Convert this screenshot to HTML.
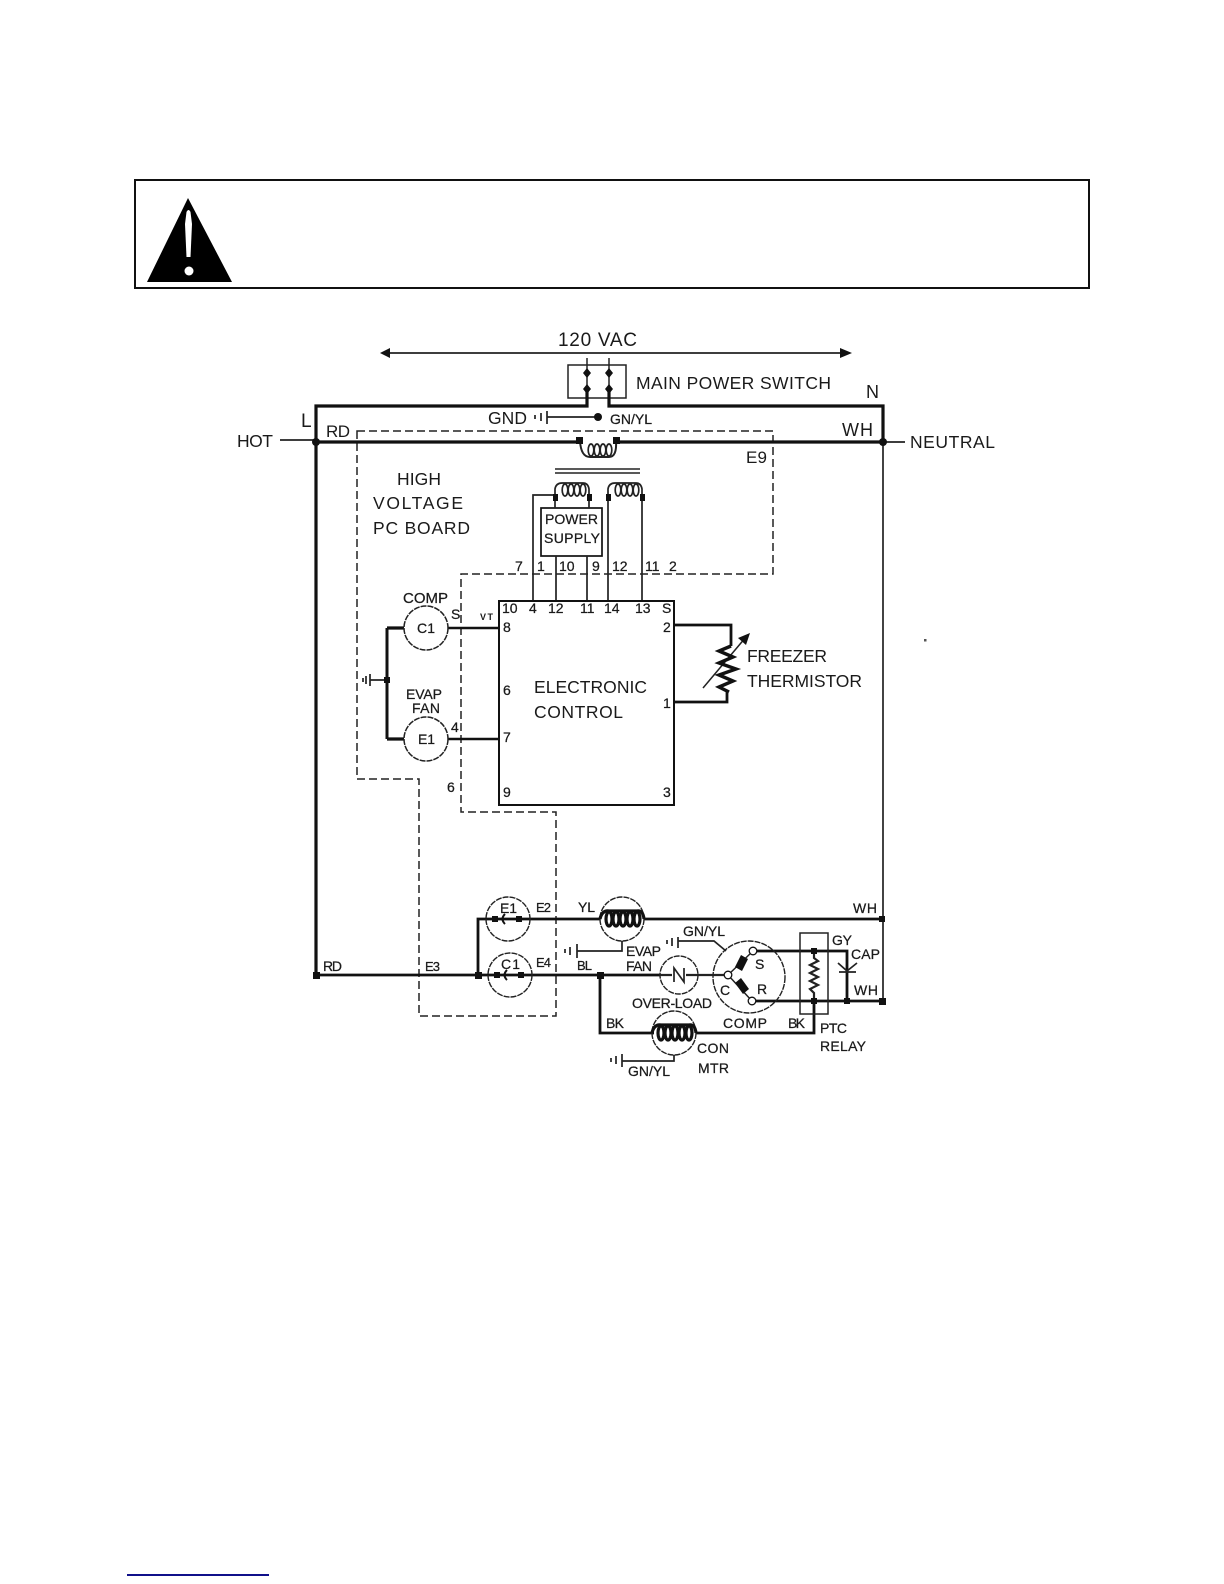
<!DOCTYPE html>
<html><head><meta charset="utf-8"><style>
html,body{margin:0;padding:0;background:#fff}
svg{display:block}
text{font-family:"Liberation Sans",sans-serif;fill:#1a1a1a}
.sm text{stroke:#1a1a1a;stroke-width:.25px}
</style></head><body>
<svg width="1224" height="1584" viewBox="0 0 1224 1584" xmlns="http://www.w3.org/2000/svg">
<rect width="1224" height="1584" fill="#fff"/>
<!-- warning box -->
<rect x="135" y="180" width="954" height="108" fill="none" stroke="#111" stroke-width="2"/>
<polygon points="188,198 147,282 232,282" fill="#000"/>
<path d="M186.500 212 Q188.500 208 190.500 212 L192 224 L190.500 257 L186.500 257 L185 224Z" fill="#fff"/>
<circle cx="189" cy="271" r="4.500" fill="#fff"/>
<!-- 120 VAC arrow -->
<g stroke="#222" fill="none">
<line x1="385" y1="353" x2="845" y2="353" stroke-width="1.800"/>
<rect x="568" y="365" width="58" height="33" stroke-width="1.500"/>
<line x1="587" y1="358" x2="587" y2="390" stroke-width="1.500"/>
<line x1="609" y1="358" x2="609" y2="390" stroke-width="1.500"/>
</g>
<polygon points="380,353 390,348 390,358" fill="#111"/>
<polygon points="852,353 840,348 840,358" fill="#111"/>
<g fill="#111"><path d="M587 368l4 5-4 5-4-5zM587 384l4 5-4 5-4-5zM609 368l4 5-4 5-4-5zM609 384l4 5-4 5-4-5z"/></g>
<!-- dashed boundaries -->
<g fill="none" stroke="#222" stroke-width="1.500" stroke-dasharray="8 4">
<path d="M357 431H773V574H461V812H556V1016H419V779H357Z"/>
</g>
<!-- thick outer -->
<g fill="none" stroke="#111" stroke-width="3.200">
<path d="M587 389V406H316V975"/>
<path d="M609 389V406H883V442"/>
<path d="M316 442H580"/>
<path d="M615 442H883"/>
<path d="M387 628V739" stroke-width="3"/>
<path d="M387 628H404M387 739H404"/>
<path d="M448 628H499M448 739H499" stroke-width="2.600"/>
<path d="M316 975H660" stroke-width="2.800"/>
<path d="M478 975V919H600" stroke-width="2.800"/>
<path d="M644 919H882" stroke-width="2.800"/>
<path d="M600 975V1033H654" stroke-width="2.800"/>
<path d="M696 1033H814V1001" stroke-width="2.800"/>
<path d="M757 951H847V1001" stroke-width="2.800"/>
<path d="M756 1001H882" stroke-width="2.800"/>
<path d="M674 625H731V646" stroke-width="2.800"/>
<path d="M674 702H727V692" stroke-width="2.800"/>
</g>
<!-- thin wires -->
<g fill="none" stroke="#222" stroke-width="1.700">
<line x1="883" y1="442" x2="883" y2="1001"/>
<line x1="280" y1="440" x2="316" y2="440"/>
<line x1="883" y1="442" x2="905" y2="442"/>
<!-- ground top -->
<line x1="547" y1="417" x2="598" y2="417"/>
<line x1="547" y1="411" x2="547" y2="424"/>
<line x1="535" y1="415" x2="535" y2="419"/><line x1="541" y1="413" x2="541" y2="421"/>
<!-- transformer bars -->
<line x1="555" y1="469" x2="640" y2="469" stroke-width="1.500"/>
<line x1="555" y1="473" x2="640" y2="473" stroke-width="1.500"/>
<!-- primary coil -->
<path d="M580 441Q581 457 590 457H609Q617 457 616 441" stroke-width="2"/>
<ellipse cx="591" cy="450" rx="2.800" ry="6"/><ellipse cx="597" cy="450" rx="2.800" ry="6"/><ellipse cx="603" cy="450" rx="2.800" ry="6"/><ellipse cx="609" cy="450" rx="2.800" ry="6"/>
<!-- secondary coils -->
<path d="M555 498V489Q556 483 562 483H583Q588 483 589 489V498"/>
<ellipse cx="565" cy="490" rx="2.800" ry="6"/><ellipse cx="571" cy="490" rx="2.800" ry="6"/><ellipse cx="577" cy="490" rx="2.800" ry="6"/><ellipse cx="583" cy="490" rx="2.800" ry="6"/>
<path d="M608 498V489Q609 483 615 483H636Q641 483 642 489V498"/>
<ellipse cx="618" cy="490" rx="2.800" ry="6"/><ellipse cx="624" cy="490" rx="2.800" ry="6"/><ellipse cx="630" cy="490" rx="2.800" ry="6"/><ellipse cx="636" cy="490" rx="2.800" ry="6"/>
<!-- PS -->
<rect x="541" y="508" width="61" height="48" stroke="#111"/>
<path d="M555 495H533V601M555 498V508M589 498V508M556 556V601M587 556V601M608 498V601M642 498V601"/>
<!-- control box -->
<rect x="499" y="601" width="175" height="204" stroke="#111" stroke-width="2"/>
<!-- motor circles -->
<circle cx="426" cy="628" r="22" stroke-width="1.500" stroke-dasharray="6 1"/>
<circle cx="426" cy="739" r="22" stroke-width="1.500" stroke-dasharray="6 1"/>
<line x1="370" y1="680" x2="387" y2="680"/><line x1="370" y1="674" x2="370" y2="686"/>
<line x1="363" y1="678" x2="363" y2="682"/><line x1="366" y1="676" x2="366" y2="684"/>
<!-- thermistor arrow -->
<line x1="703" y1="688" x2="746" y2="637" stroke-width="1.500"/>
<!-- lower circles -->
<circle cx="508" cy="919" r="22" stroke-width="1.400" stroke-dasharray="6 1"/>
<circle cx="510" cy="975" r="22" stroke-width="1.400" stroke-dasharray="6 1"/>
<circle cx="622" cy="919" r="22" stroke-width="1.400" stroke-dasharray="6 1"/>
<circle cx="679" cy="975" r="19" stroke-width="1.400" stroke-dasharray="6 1"/>
<circle cx="674" cy="1033" r="22" stroke-width="1.400" stroke-dasharray="6 1"/>
<circle cx="749" cy="977" r="36" stroke-width="1.400" stroke-dasharray="6 1"/>
<path d="M660 975H672M686 975H724" stroke-width="2.200"/>
<path d="M674 982L674 968L684 982V968" stroke-width="1.700"/>
<!-- comp terminals -->
<path d="M728 975L753 951M728 975L752 1001" stroke-width="1.500"/>
<!-- grounds -->
<path d="M622 941V951H577M577 944V958M565 949V953M570 947V955"/>
<path d="M678 937V948M678 941H714L726 951M667 940V944M672 938V946"/>
<path d="M674 1055V1061H622M622 1054V1067M611 1058V1062M616 1056V1064"/>
<!-- relay -->
<rect x="800" y="933" width="28" height="81" stroke-width="1.500"/>
<path d="M814 951V958L818 961L810 965L818 969L810 973L818 977L810 981L818 985L810 989L814 993V1001" stroke-width="2.200"/>
<path d="M838 963L847 971L857 963M839 972H856" stroke-width="1.700"/>
</g>
<!-- thermistor zigzag -->
<path d="M731 646L719 651L733 657L719 663L736 669L719 675L733 681L719 687L729 692" fill="none" stroke="#111" stroke-width="3.400"/>
<polygon points="750,633 738,638 746,645" fill="#111"/>
<!-- coils heavy -->
<g fill="none" stroke="#111" stroke-width="3.200">
<ellipse cx="609" cy="919" rx="3" ry="7"/><ellipse cx="616" cy="919" rx="3" ry="7"/><ellipse cx="623" cy="919" rx="3" ry="7"/><ellipse cx="630" cy="919" rx="3" ry="7"/><ellipse cx="637" cy="919" rx="3" ry="7"/>
<path d="M600 919Q602 910 609 911H637Q643 910 644 919"/>
<ellipse cx="661" cy="1033" rx="3" ry="7"/><ellipse cx="668" cy="1033" rx="3" ry="7"/><ellipse cx="675" cy="1033" rx="3" ry="7"/><ellipse cx="682" cy="1033" rx="3" ry="7"/><ellipse cx="689" cy="1033" rx="3" ry="7"/>
<path d="M652 1033Q654 1024 661 1025H689Q695 1024 696 1033"/>
</g>
<!-- junctions -->
<g fill="#111">
<circle cx="598" cy="417" r="4"/>
<circle cx="316" cy="442" r="4"/><circle cx="883" cy="442" r="4"/>
<rect x="576" y="437" width="7" height="7"/><rect x="613" y="437" width="7" height="7"/>
<rect x="553" y="494" width="5" height="7"/><rect x="587" y="494" width="5" height="7"/><rect x="606" y="494" width="5" height="7"/><rect x="640" y="494" width="5" height="7"/>
<rect x="384" y="677" width="6" height="6"/>
<rect x="313" y="972" width="7" height="7"/>
<rect x="475" y="972" width="7" height="7"/>
<rect x="597" y="972" width="7" height="7"/>
<rect x="492" y="916" width="6" height="6"/><rect x="516" y="916" width="6" height="6"/>
<rect x="494" y="972" width="6" height="6"/><rect x="518" y="972" width="6" height="6"/>
<rect x="879" y="916" width="6" height="6"/><rect x="879" y="998" width="7" height="7"/>
<rect x="811" y="948" width="6" height="6"/><rect x="811" y="998" width="6" height="6"/><rect x="844" y="998" width="6" height="6"/>
<path d="M735 967l6-12 7 4-6 12z"/><path d="M735 983l6-5 8 11-6 5z"/>
<rect x="924" y="639" width="2.500" height="2.500" fill="#555"/>
</g>
<g fill="#fff" stroke="#111" stroke-width="1.300">
<circle cx="753" cy="951" r="3.800"/><circle cx="728" cy="975" r="3.800"/><circle cx="752" cy="1001" r="3.800"/>
</g>
<path d="M505 914Q500 919 505 924M507 970Q502 975 507 980" fill="none" stroke="#111" stroke-width="2"/>
<!-- bottom rule -->
<rect x="127" y="1574" width="142" height="2" fill="#10108a"/>
<!-- large labels -->
<g font-size="17.500">
<text x="558" y="346" textLength="79" font-size="19">120 VAC</text>
<text x="636" y="389" textLength="195">MAIN POWER SWITCH</text>
<text x="237" y="447" textLength="36">HOT</text>
<text x="910" y="448" textLength="85">NEUTRAL</text>
<text x="488" y="424" textLength="39">GND</text>
<text x="397" y="485" textLength="44">HIGH</text>
<text x="373" y="509" textLength="90">VOLTAGE</text>
<text x="373" y="534" textLength="97">PC BOARD</text>
<text x="534" y="693" textLength="113">ELECTRONIC</text>
<text x="534" y="718" textLength="89">CONTROL</text>
<text x="747" y="662" textLength="80">FREEZER</text>
<text x="747" y="687" textLength="115">THERMISTOR</text>
</g>
<g font-size="17">
<text x="301" y="427" textLength="12" font-size="19">L</text>
<text x="326" y="437" textLength="24">RD</text>
<text x="842" y="436" textLength="31" font-size="18">WH</text>
<text x="866" y="398" textLength="13" font-size="18">N</text>
<text x="746" y="463" textLength="21">E9</text>
</g>
<g font-size="14" class="sm">
<text x="545" y="524" textLength="53">POWER</text>
<text x="544" y="543" textLength="56">SUPPLY</text>
<text x="515" y="571">7</text><text x="537" y="571">1</text><text x="559" y="571">10</text><text x="592" y="571">9</text><text x="612" y="571">12</text><text x="645" y="571">11</text><text x="669" y="571">2</text>
<text x="502" y="613">10</text><text x="529" y="613">4</text><text x="548" y="613">12</text><text x="580" y="613">11</text><text x="604" y="613">14</text><text x="635" y="613">13</text><text x="662" y="613">S</text>
<text x="503" y="632">8</text><text x="503" y="695">6</text><text x="503" y="742">7</text><text x="503" y="797">9</text>
<text x="663" y="632">2</text><text x="663" y="708">1</text><text x="663" y="797">3</text>
<text x="403" y="603" textLength="45" font-size="15">COMP</text>
<text x="417" y="633" textLength="18">C1</text>
<text x="418" y="744" textLength="17">E1</text>
<text x="451" y="619">S</text><text x="451" y="732">4</text><text x="447" y="792">6</text>
<text x="500" y="913" textLength="17">E1</text>
<text x="501" y="969" textLength="19">C1</text>
<text x="755" y="969">S</text><text x="757" y="994">R</text><text x="720" y="995">C</text>
</g>
<g font-size="14" class="sm">
<text x="610" y="424" textLength="42">GN/YL</text>
<text x="406" y="699" textLength="36">EVAP</text>
<text x="412" y="713" textLength="28">FAN</text>
<text x="323" y="971" textLength="19">RD</text>
<text x="425" y="971" textLength="15" font-size="13">E3</text>
<text x="536" y="912" textLength="15" font-size="13">E2</text>
<text x="536" y="967" textLength="15" font-size="13">E4</text>
<text x="578" y="912" textLength="17">YL</text>
<text x="577" y="970" textLength="15" font-size="13">BL</text>
<text x="626" y="956" textLength="35">EVAP</text>
<text x="626" y="971" textLength="26">FAN</text>
<text x="632" y="1008" textLength="80">OVER-LOAD</text>
<text x="683" y="936" textLength="42">GN/YL</text>
<text x="723" y="1028" textLength="44">COMP</text>
<text x="606" y="1028" textLength="18">BK</text>
<text x="788" y="1028" textLength="17">BK</text>
<text x="820" y="1033" textLength="27">PTC</text>
<text x="820" y="1051" textLength="46">RELAY</text>
<text x="697" y="1053" textLength="32">CON</text>
<text x="698" y="1073" textLength="31">MTR</text>
<text x="628" y="1076" textLength="42">GN/YL</text>
<text x="832" y="945" textLength="20">GY</text>
<text x="851" y="959" textLength="29">CAP</text>
<text x="853" y="913" textLength="24">WH</text>
<text x="854" y="995" textLength="24">WH</text>
</g>
<text x="480" y="620" font-size="9" textLength="13" font-weight="bold">VT</text>
</svg>
</body></html>
